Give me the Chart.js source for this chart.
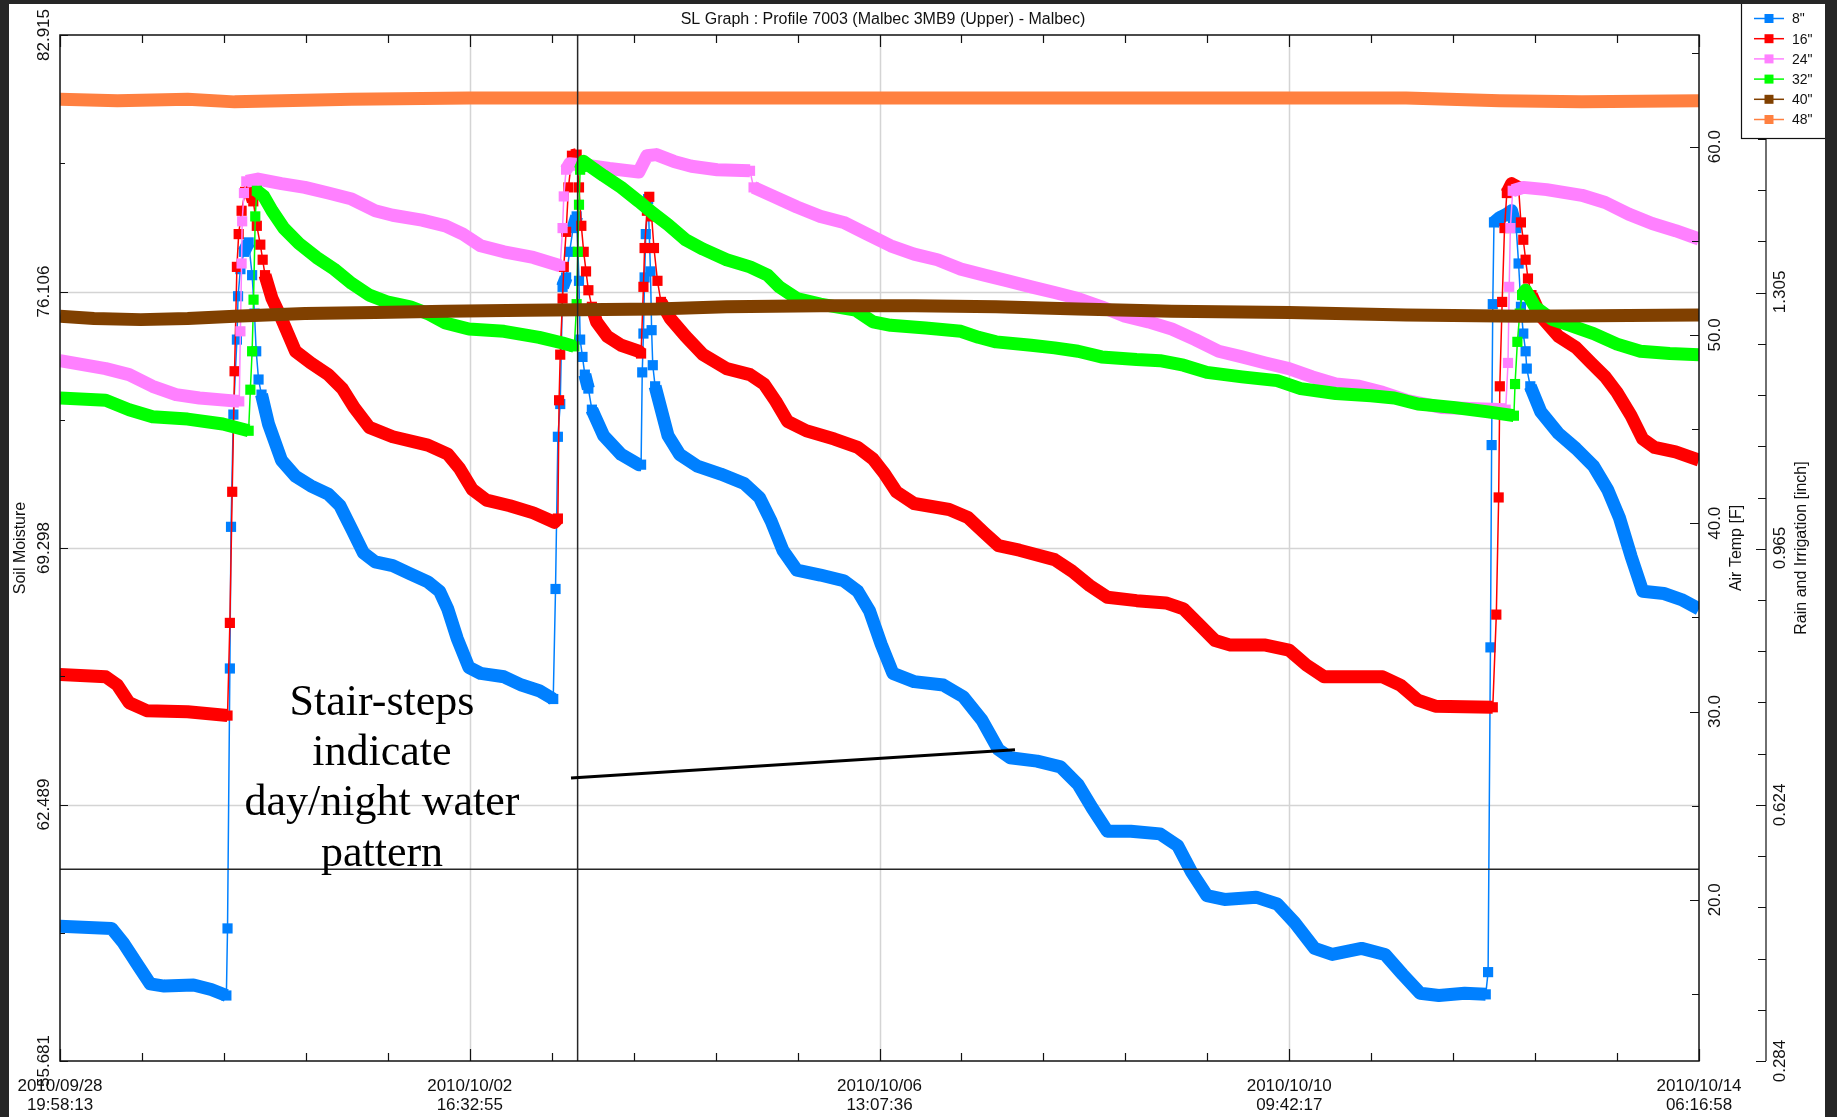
<!DOCTYPE html>
<html>
<head>
<meta charset="utf-8">
<script src="https://cdn.jsdelivr.net/npm/chart.js@4.4.1/dist/chart.umd.min.js"></script>
<style>
  html, body { margin: 0; padding: 0; background: #262626; overflow: hidden; }
  #chart { display: block; }
</style>
</head>
<body>
<canvas id="chart" width="1837" height="1117"></canvas>
<script>
// x values are hours after 2010/09/28 19:58:13, y values are soil moisture
const spanHours = 370.3125;
const xTickDates = ['2010/09/28', '2010/10/02', '2010/10/06', '2010/10/10', '2010/10/14'];
const xTickTimes = ['19:58:13', '16:32:55', '13:07:36', '09:42:17', '06:16:58'];
const moistureTicks = [55.681, 62.489, 69.298, 76.106, 82.915];
const airTempTicks = [20, 30, 40, 50, 60];
const airTempRange = [11.44, 65.93];
const rainTicks = [0.284, 0.624, 0.965, 1.305, 1.646];

const seriesLabels = ['8"', '16"', '24"', '32"', '40"', '48"'];
const seriesColors = ['#0080ff', '#ff0000', '#ff80ff', '#00ff00', '#804000', '#ff8040'];

const depth8 = [
  [0, 59.26], [11.65, 59.20], [14.29, 58.82], [17.73, 58.20], [20.38, 57.73], [23.56, 57.67],
  [30.17, 57.70], [34.15, 57.58], [37.59, 57.42],
  [37.85, 59.20], [38.38, 66.10], [38.64, 69.86], [39.17, 72.84], [39.97, 74.83], [40.23, 75.98],
  [40.76, 76.70], [41.56, 77.16], [42.62, 77.41], [43.41, 76.54], [43.94, 75.52], [44.33, 74.52],
  [44.86, 73.77], [45.53, 73.37],
  [47.11, 72.59], [50.03, 71.63], [53.20, 71.20], [56.64, 70.95], [60.61, 70.73], [63.26, 70.42],
  [65.91, 69.80], [68.55, 69.17], [71.20, 68.93], [75.17, 68.83], [79.14, 68.61], [83.11, 68.40],
  [85.76, 68.15], [87.61, 67.68], [89.73, 66.90], [92.38, 66.13], [95.02, 65.97], [100.32, 65.88],
  [104.29, 65.66], [108.26, 65.51], [111.44, 65.29],
  [111.96, 68.21], [112.49, 72.25], [113.02, 73.12], [113.55, 76.23], [114.35, 76.48], [115.14, 77.16],
  [115.93, 77.79], [116.73, 78.10], [117.26, 76.39], [117.52, 74.83], [118.05, 74.37], [118.58, 73.90],
  [119.38, 73.53], [120.17, 72.97], [122.82, 72.28], [126.79, 71.78], [130.76, 71.51],
  [131.29, 71.51], [131.55, 73.96], [131.82, 74.99], [132.08, 76.48], [132.35, 77.63], [132.88, 78.56],
  [133.41, 76.64], [133.67, 75.08], [133.93, 74.15], [134.46, 73.59],
  [137.37, 72.28], [140.02, 71.78], [143.99, 71.47], [149.29, 71.26], [154.58, 71.01], [158.02, 70.64],
  [160.67, 70.01], [163.32, 69.24], [166.49, 68.71], [171.79, 68.58], [177.08, 68.43], [180.25, 68.15],
  [182.90, 67.63], [185.55, 66.74], [188.19, 65.97], [192.96, 65.75], [199.58, 65.66], [204.08, 65.35],
  [208.31, 64.73], [212.02, 63.95], [214.66, 63.73], [220.75, 63.64], [226.05, 63.49], [230.02, 63.02],
  [233.19, 62.40], [236.63, 61.78], [241.93, 61.78], [248.54, 61.71], [252.51, 61.40], [255.69, 60.69],
  [259.13, 60.07], [263.10, 59.97], [270.25, 60.03], [275.01, 59.85], [278.98, 59.35], [283.48, 58.67],
  [287.45, 58.51], [294.07, 58.67], [299.36, 58.51], [303.34, 57.98], [307.31, 57.48], [311.54, 57.42],
  [317.37, 57.48], [322.13, 57.45],
  [322.66, 58.04], [323.19, 66.66], [323.46, 72.03], [323.72, 75.77], [323.99, 77.94], [325.31, 78.07],
  [326.90, 78.16], [327.96, 78.25], [329.02, 77.79], [329.55, 76.85], [330.08, 75.70], [330.61, 74.99],
  [331.14, 74.52], [331.40, 74.06], [332.20, 73.59],
  [334.58, 72.91], [338.54, 72.34], [342.51, 71.94], [346.49, 71.47], [349.66, 70.85], [352.31, 70.11],
  [354.96, 69.08], [357.60, 68.15], [362.37, 68.09], [366.34, 67.93], [370.31, 67.68]
];

const depth16 = [
  [0, 65.94], [10.32, 65.88], [12.97, 65.66], [15.62, 65.19], [19.59, 64.98], [28.85, 64.95], [37.85, 64.85],
  [38.38, 67.31], [38.91, 70.79], [39.44, 73.99], [39.97, 76.76], [40.37, 77.63], [41.03, 78.25],
  [41.82, 78.75], [42.88, 78.78], [43.67, 78.50], [44.47, 77.85], [45.26, 77.35], [45.79, 76.95], [46.32, 76.54],
  [47.91, 75.92], [50.03, 75.39], [53.20, 74.52], [56.64, 74.21], [60.61, 73.90], [63.79, 73.53],
  [66.44, 73.03], [69.88, 72.50], [75.17, 72.25], [83.11, 72.03], [87.61, 71.79], [90.26, 71.41],
  [93.17, 70.85], [96.35, 70.57], [101.64, 70.42], [106.93, 70.23], [111.70, 69.98],
  [112.49, 70.08], [112.76, 73.22], [113.02, 74.43], [113.55, 75.92], [113.82, 76.76], [114.35, 77.69],
  [114.88, 78.87], [115.67, 79.71], [116.73, 79.74], [117.26, 78.87], [117.79, 77.85], [118.32, 77.16],
  [118.85, 76.64], [119.38, 76.14], [120.17, 75.70], [121.23, 75.30],
  [123.61, 74.92], [126.79, 74.68], [130.76, 74.52],
  [131.29, 74.46], [131.82, 76.23], [132.08, 77.26], [132.61, 78.25], [133.14, 78.62], [133.67, 78.10],
  [134.20, 77.26], [134.99, 76.39], [135.78, 75.83],
  [137.90, 75.39], [141.34, 74.92], [145.31, 74.43], [150.61, 74.06], [155.90, 73.90], [159.08, 73.65],
  [161.73, 73.19], [164.37, 72.66], [168.61, 72.41], [174.96, 72.19], [180.25, 71.97], [183.69, 71.66],
  [186.34, 71.26], [188.99, 70.79], [192.96, 70.48], [200.90, 70.32], [205.14, 70.11], [208.84, 69.70],
  [212.02, 69.36], [216.78, 69.24], [224.72, 68.99], [228.69, 68.68], [232.66, 68.30], [236.63, 67.99],
  [243.25, 67.90], [249.87, 67.84], [253.84, 67.68], [257.01, 67.31], [260.99, 66.84], [264.43, 66.72],
  [272.37, 66.72], [277.66, 66.59], [281.63, 66.19], [285.60, 65.88], [298.84, 65.88], [302.81, 65.66],
  [306.78, 65.26], [310.75, 65.10], [323.72, 65.07],
  [324.52, 67.53], [325.05, 70.64], [325.31, 73.59], [325.84, 75.83], [326.37, 77.79], [326.90, 78.72],
  [327.96, 78.97], [329.55, 78.87], [330.08, 77.94], [330.61, 77.48], [331.14, 76.95], [331.67, 76.45],
  [332.46, 76.01],
  [334.58, 75.45], [338.54, 74.92], [342.51, 74.62], [345.96, 74.21], [349.13, 73.84], [351.78, 73.43],
  [354.96, 72.81], [357.60, 72.19], [360.25, 71.97], [365.01, 71.85], [370.31, 71.63]
];

const depth24 = [
  [0, 74.27], [10.32, 74.06], [15.62, 73.90], [20.91, 73.59], [26.20, 73.37], [31.50, 73.28], [40.50, 73.19],
  [40.76, 75.05], [41.03, 76.85], [41.16, 77.97], [41.56, 78.72], [42.09, 79.03],
  [44.73, 79.09], [50.03, 78.97], [55.32, 78.87], [60.61, 78.72], [65.91, 78.56], [71.20, 78.25],
  [75.17, 78.13], [81.79, 78.00], [87.08, 77.85], [91.05, 77.63], [95.02, 77.32], [100.32, 77.16],
  [106.93, 77.01], [113.02, 76.79],
  [113.55, 77.79], [113.82, 78.63], [114.35, 79.34], [115.14, 79.50],
  [118.85, 79.46], [124.14, 79.37], [130.76, 79.28], [132.61, 79.71], [134.73, 79.74], [138.70, 79.56],
  [142.67, 79.43], [148.49, 79.34], [155.90, 79.31], [156.70, 78.87], [161.20, 78.63], [166.49, 78.35],
  [171.79, 78.10], [177.08, 77.94], [182.37, 77.63], [187.67, 77.32], [192.96, 77.10], [198.25, 76.95],
  [203.55, 76.70], [208.84, 76.54], [214.13, 76.39], [219.43, 76.23], [224.72, 76.08], [230.02, 75.92],
  [235.31, 75.70], [240.60, 75.45], [245.90, 75.30], [251.19, 75.11], [256.49, 74.83], [261.78, 74.52],
  [267.07, 74.37], [272.37, 74.21], [277.66, 74.06], [282.96, 73.84], [288.25, 73.65], [293.54, 73.59],
  [298.84, 73.43], [304.13, 73.22], [312.07, 73.03], [326.63, 72.97],
  [327.16, 74.21], [327.43, 76.23], [327.69, 77.79], [328.22, 78.78],
  [330.61, 78.87], [335.89, 78.81], [343.84, 78.66], [349.13, 78.47], [354.43, 78.16], [359.72, 77.91],
  [365.01, 77.72], [370.31, 77.50]
];

const depth32 = [
  [0, 73.28], [10.32, 73.22], [15.62, 72.97], [20.91, 72.78], [28.85, 72.72], [36.79, 72.59], [42.62, 72.41],
  [43.01, 73.50], [43.41, 74.52], [43.73, 75.89], [44.12, 78.10], [44.47, 78.78],
  [46.06, 78.63], [47.91, 78.25], [50.56, 77.79], [54.00, 77.38], [57.97, 77.01], [61.94, 76.70],
  [65.91, 76.32], [69.88, 76.01], [73.85, 75.83], [79.14, 75.70], [83.11, 75.52], [87.08, 75.27],
  [92.38, 75.11], [100.32, 75.05], [108.26, 74.89], [113.55, 74.74], [116.20, 74.65],
  [116.73, 75.77], [116.99, 77.16], [117.26, 78.41], [117.52, 79.34], [118.32, 79.56],
  [120.17, 79.40], [122.82, 79.18], [126.79, 78.87], [130.76, 78.50], [133.93, 78.19], [137.37, 77.88],
  [141.34, 77.48], [145.31, 77.23], [150.61, 76.95], [155.90, 76.76], [159.87, 76.54], [162.52, 76.23],
  [166.49, 75.92], [171.79, 75.77], [179.72, 75.61], [183.69, 75.30], [187.67, 75.21], [195.61, 75.14],
  [203.55, 75.05], [207.52, 74.89], [211.49, 74.77], [219.43, 74.68], [224.72, 74.61], [230.02, 74.52],
  [235.31, 74.37], [243.25, 74.30], [248.54, 74.27], [253.84, 74.15], [259.13, 73.96], [267.07, 73.84],
  [275.01, 73.74], [280.31, 73.53], [288.25, 73.40], [296.19, 73.34], [301.48, 73.28], [306.78, 73.12],
  [314.72, 73.03], [322.66, 72.91], [328.49, 72.81],
  [328.75, 73.65], [329.28, 74.77], [329.81, 75.52], [330.34, 76.01], [331.14, 76.14],
  [333.26, 75.70], [337.22, 75.36], [341.19, 75.21], [346.49, 74.99], [351.78, 74.71], [357.07, 74.52],
  [363.69, 74.46], [370.31, 74.43]
];

const depth40 = [
  [0, 75.45], [7.68, 75.39], [18.26, 75.36], [28.85, 75.39], [39.44, 75.45], [55.32, 75.52], [71.20, 75.55],
  [87.08, 75.58], [105.61, 75.61], [134.73, 75.64], [150.61, 75.70], [171.79, 75.73], [192.96, 75.73],
  [211.49, 75.70], [230.02, 75.64], [251.19, 75.58], [277.66, 75.55], [304.13, 75.48], [330.61, 75.45],
  [370.31, 75.48]
];

const depth48 = [
  [0, 81.21], [12.97, 81.17], [28.85, 81.21], [39.44, 81.14], [50.03, 81.17], [65.91, 81.21],
  [92.38, 81.24], [145.31, 81.24], [198.25, 81.24], [251.19, 81.24], [304.13, 81.24], [325.31, 81.17],
  [343.84, 81.14], [370.31, 81.17]
];

const seriesData = [depth8, depth16, depth24, depth32, depth40, depth48];

// cursor cross and the note
const cursorHour = 116.95;
const cursorMoisture = 60.77;
const noteLines = ['Stair-steps', 'indicate', 'day/night water', 'pattern'];
const noteAnchor = [72.75, 64.87];
const noteArrow = [[115.45, 63.19], [215.77, 63.94]];

const BAND = 13;
const THIN = 1.5;

// a segment drawn with sparse samples (fast rise or fall) gets a thin line and markers
function steep(chart, dsIndex, i, j) {
  const d = chart.data.datasets[dsIndex].data;
  if (i < 0 || j >= d.length) return false;
  const xs = chart.scales.x, ys = chart.scales.y;
  const dx = Math.abs(xs.getPixelForValue(d[j].x) - xs.getPixelForValue(d[i].x));
  const dy = Math.abs(ys.getPixelForValue(d[j].y) - ys.getPixelForValue(d[i].y));
  return dy > 4.5 * Math.max(dx, 0.5);
}

const datasets = seriesData.map((s, k) => ({
  label: seriesLabels[k],
  data: s.map(p => ({ x: p[0], y: p[1] })),
  borderColor: seriesColors[k],
  backgroundColor: seriesColors[k],
  pointBackgroundColor: seriesColors[k],
  pointBorderWidth: 0,
  pointStyle: 'rect',
  pointRadius: c => (steep(c.chart, c.datasetIndex, c.dataIndex - 1, c.dataIndex) ||
                     steep(c.chart, c.datasetIndex, c.dataIndex, c.dataIndex + 1)) ? 7.2 : 0,
  borderWidth: BAND,
  segment: {
    borderWidth: c => steep(c.chart, c.datasetIndex, c.p0DataIndex, c.p1DataIndex) ? THIN : BAND
  },
  borderJoinStyle: 'round',
  borderCapStyle: 'butt',
  tension: 0,
  fill: false,
  order: seriesData.length - 1 - k
}));

function rotText(ctx, text, x, y) {
  ctx.save();
  ctx.translate(x, y);
  ctx.rotate(-Math.PI / 2);
  ctx.fillText(text, 0, 0);
  ctx.restore();
}

const framePlugin = {
  id: 'frame',
  beforeDraw(chart) {
    const ctx = chart.ctx;
    ctx.save();
    ctx.fillStyle = '#ffffff';
    ctx.fillRect(0, 0, chart.width, chart.height);
    ctx.restore();
  },
  beforeDatasetsDraw(chart) {
    const { ctx, chartArea: a, scales } = chart;
    ctx.save();
    ctx.strokeStyle = '#d4d4d4';
    ctx.lineWidth = 1.5;
    ctx.beginPath();
    for (let k = 1; k < xTickDates.length - 1; k++) {
      const px = Math.round(scales.x.getPixelForValue(k * spanHours / (xTickDates.length - 1))) + 0.5;
      ctx.moveTo(px, a.top); ctx.lineTo(px, a.bottom);
    }
    for (let k = 1; k < moistureTicks.length - 1; k++) {
      const py = Math.round(scales.y.getPixelForValue(moistureTicks[k])) + 0.5;
      ctx.moveTo(a.left, py); ctx.lineTo(a.right, py);
    }
    ctx.stroke();
    ctx.restore();
  },
  afterDatasetsDraw(chart) {
    const { ctx, chartArea: a, scales } = chart;
    const xs = scales.x, ys = scales.y, ts = scales.yTemp, rs = scales.yRain;
    ctx.save();

    // cursor cross
    ctx.strokeStyle = '#262626';
    ctx.lineWidth = 1.5;
    ctx.beginPath();
    const cx = xs.getPixelForValue(cursorHour), cy = ys.getPixelForValue(cursorMoisture);
    ctx.moveTo(cx, a.top); ctx.lineTo(cx, a.bottom);
    ctx.moveTo(a.left, cy); ctx.lineTo(a.right, cy);
    ctx.stroke();

    // note
    ctx.fillStyle = '#000';
    ctx.font = '44px "Liberation Serif", serif';
    ctx.textAlign = 'center';
    ctx.textBaseline = 'alphabetic';
    const nx = xs.getPixelForValue(noteAnchor[0]);
    const ny = ys.getPixelForValue(noteAnchor[1]);
    noteLines.forEach((t, i) => ctx.fillText(t, nx, ny + i * 50.3));
    ctx.strokeStyle = '#000';
    ctx.lineWidth = 3;
    ctx.beginPath();
    ctx.moveTo(xs.getPixelForValue(noteArrow[0][0]), ys.getPixelForValue(noteArrow[0][1]));
    ctx.lineTo(xs.getPixelForValue(noteArrow[1][0]), ys.getPixelForValue(noteArrow[1][1]));
    ctx.stroke();

    // plot frame
    ctx.strokeStyle = '#111';
    ctx.lineWidth = 1.5;
    ctx.strokeRect(a.left, a.top, a.right - a.left, a.bottom - a.top);

    // x ticks, top and bottom, pointing inward
    ctx.lineWidth = 1.2;
    ctx.beginPath();
    const nMajor = xTickDates.length - 1;
    for (let k = 0; k <= nMajor * 5; k++) {
      const px = Math.round(xs.getPixelForValue(k * spanHours / (nMajor * 5))) + 0.5;
      const len = k % 5 === 0 ? 12 : 8;
      ctx.moveTo(px, a.bottom); ctx.lineTo(px, a.bottom - len);
      ctx.moveTo(px, a.top); ctx.lineTo(px, a.top + len);
    }
    // moisture ticks on the left
    for (let k = 0; k < moistureTicks.length; k++) {
      const py = Math.round(ys.getPixelForValue(moistureTicks[k])) + 0.5;
      ctx.moveTo(a.left, py); ctx.lineTo(a.left + 8, py);
      if (k < moistureTicks.length - 1) {
        const pm = Math.round(ys.getPixelForValue((moistureTicks[k] + moistureTicks[k + 1]) / 2)) + 0.5;
        ctx.moveTo(a.left, pm); ctx.lineTo(a.left + 5, pm);
      }
    }
    // air temperature ticks on the right edge
    for (let t = 15; t <= 65; t += 5) {
      const py = Math.round(ts.getPixelForValue(t)) + 0.5;
      ctx.moveTo(a.right, py); ctx.lineTo(a.right - (t % 10 === 0 ? 9 : 7), py);
    }
    // rain axis
    const rx = a.right + 67;
    ctx.moveTo(rx, a.top); ctx.lineTo(rx, a.bottom);
    const rStep = (rainTicks[1] - rainTicks[0]) / 5;
    for (let k = 0; k <= (rainTicks.length - 1) * 5; k++) {
      const py = Math.round(rs.getPixelForValue(rainTicks[0] + k * rStep)) + 0.5;
      ctx.moveTo(rx, py); ctx.lineTo(rx - (k % 5 === 0 ? 10 : 8), py);
    }
    ctx.stroke();

    // labels
    ctx.fillStyle = '#111';
    ctx.font = '17px "Liberation Sans", Arial, sans-serif';
    ctx.textAlign = 'center';
    ctx.textBaseline = 'middle';
    moistureTicks.forEach(v => rotText(ctx, v.toFixed(3), 44, ys.getPixelForValue(v)));
    airTempTicks.forEach(v => rotText(ctx, v.toFixed(1), a.right + 16, ts.getPixelForValue(v)));
    rainTicks.forEach(v => rotText(ctx, v.toFixed(3), rx + 14, rs.getPixelForValue(v)));
    xTickDates.forEach((d, k) => {
      const px = xs.getPixelForValue(k * spanHours / nMajor);
      ctx.fillText(d, px, a.bottom + 25);
      ctx.fillText(xTickTimes[k], px, a.bottom + 44);
    });

    ctx.font = '16px "Liberation Sans", Arial, sans-serif';
    const midY = (a.top + a.bottom) / 2;
    rotText(ctx, 'Soil Moisture', 21, midY);
    rotText(ctx, 'Air Temp [F]', a.right + 38, midY);
    rotText(ctx, 'Rain and Irrigation [inch]', rx + 36, midY);
    ctx.fillText('SL Graph : Profile 7003 (Malbec 3MB9 (Upper) - Malbec)', 883, 20);

    // legend
    const lx = 1741, ly = -1, lw = 90, lh = 139;
    ctx.fillStyle = '#fff';
    ctx.fillRect(lx, ly, lw, lh);
    ctx.strokeStyle = '#111';
    ctx.lineWidth = 1.2;
    ctx.strokeRect(lx + 0.5, ly + 0.5, lw, lh);
    ctx.font = '14px "Liberation Sans", Arial, sans-serif';
    ctx.textAlign = 'left';
    seriesLabels.forEach((lab, i) => {
      const y = 18.5 + i * 20.2;
      ctx.strokeStyle = seriesColors[i];
      ctx.lineWidth = 1.5;
      ctx.beginPath();
      ctx.moveTo(lx + 13, y); ctx.lineTo(lx + 43, y);
      ctx.stroke();
      ctx.fillStyle = seriesColors[i];
      ctx.fillRect(lx + 23.5, y - 4.5, 9, 9);
      ctx.fillStyle = '#111';
      ctx.fillText(lab, lx + 51, y + 1);
    });
    ctx.restore();
  },
  afterDraw(chart) {
    // dark screen frame around the capture
    const ctx = chart.ctx;
    ctx.save();
    ctx.fillStyle = '#262626';
    ctx.fillRect(0, 0, 9, chart.height);
    ctx.fillRect(0, 0, chart.width, 4);
    ctx.fillRect(1825, 0, chart.width - 1825, chart.height);
    ctx.restore();
  }
};

new Chart(document.getElementById('chart'), {
  type: 'line',
  data: { datasets },
  options: {
    responsive: false,
    animation: false,
    events: [],
    devicePixelRatio: 1,
    layout: { padding: { left: 60, top: 35, right: 138, bottom: 56 } },
    scales: {
      x: { type: 'linear', min: 0, max: spanHours, display: false },
      y: { type: 'linear', min: moistureTicks[0], max: moistureTicks[moistureTicks.length - 1], display: false },
      yTemp: { type: 'linear', position: 'right', min: airTempRange[0], max: airTempRange[1], display: false },
      yRain: { type: 'linear', position: 'right', min: rainTicks[0], max: rainTicks[rainTicks.length - 1], display: false }
    },
    plugins: {
      legend: { display: false },
      tooltip: { enabled: false },
      title: { display: false }
    }
  },
  plugins: [framePlugin]
});
</script>
</body>
</html>
